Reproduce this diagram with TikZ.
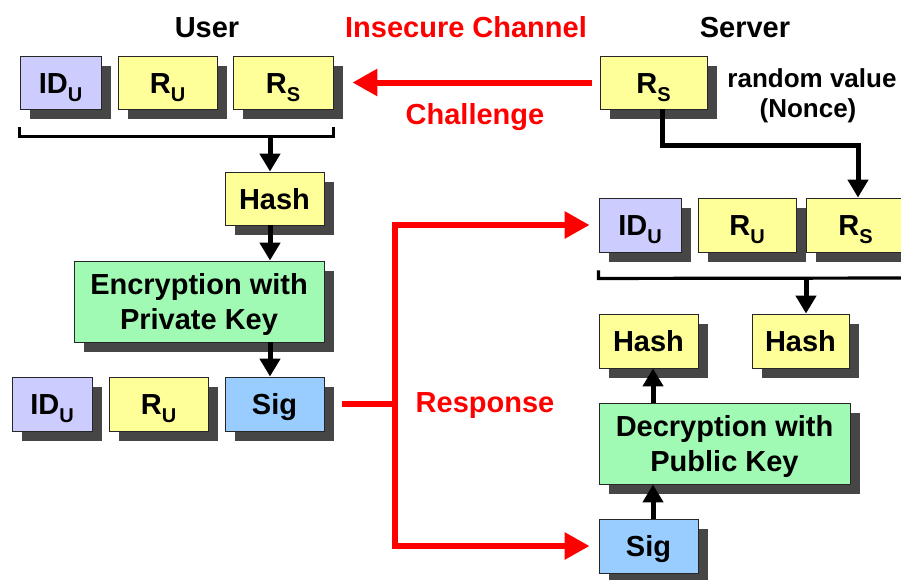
\documentclass[tikz,border=0pt]{standalone}
\usepackage{fontspec}
\setmainfont{Liberation Sans}
\usetikzlibrary{arrows.meta,shadows,calc}

\definecolor{lav}{RGB}{204,204,255}
\definecolor{yel}{RGB}{255,255,153}
\definecolor{grn}{RGB}{160,250,180}
\definecolor{blu}{RGB}{153,204,255}
\definecolor{shadowgray}{RGB}{70,70,70}

% lowered, smaller index letter (ID_U, R_S ...)
\newcommand\idx[1]{\raisebox{-8pt}{\fontsize{20}{20}\selectfont #1}}

\begin{document}
\begin{tikzpicture}[x=1pt,y=-1pt,
  box/.style={draw=black!85, line width=0.9pt, inner sep=0pt,
    font=\fontsize{29}{35}\selectfont\bfseries,
    drop shadow={shadow xshift=10pt, shadow yshift=-10pt, fill=shadowgray, opacity=1}},
  sz/.style 2 args={minimum width=#1pt, minimum height=#2pt},
  one/.style={text height=21pt, text depth=0pt},
  two/.style={align=center, text depth=0pt},
  lbl/.style={inner sep=0pt, font=\fontsize{29}{35}\selectfont\bfseries, anchor=base},
  small/.style={inner sep=0pt, font=\fontsize{26}{30}\selectfont\bfseries, anchor=base},
  arr/.style={line width=5pt, -{Triangle[width=20pt,length=18pt]}},
  brk/.style={line width=3.2pt},
  rline/.style={red, line width=6pt},
  rarr/.style={rline, -{Triangle[width=26pt,length=25pt]}}]

\useasboundingbox (0,0) rectangle (901,579);
\clip (0,0) rectangle (901,579);

% ---------- headings ----------
\node[lbl] (user) at (207,37) {User};
\node[lbl, text=red] (chan) at (466,37) {Insecure Channel};
\node[lbl] (server) at (745,37) {Server};

% ---------- user side ----------
\node[box, fill=lav, sz={81}{53}, one] (idA) at (60.5,82.5) {ID\idx{U}};
\node[box, fill=yel, sz={99}{53}, one] (ruA) at (167.5,82.5) {R\idx{U}};
\node[box, fill=yel, sz={100}{53}, one] (rsA) at (283,82.5) {R\idx{S}};
\node[box, fill=yel, sz={99}{53}, one] (hashA) at (274.5,198.5) {Hash};
\node[box, fill=grn, sz={250}{81}, two] (enc) at (199,301.5) {Encryption with\\Private Key};
\node[box, fill=lav, sz={80}{54}, one] (idB) at (52,404) {ID\idx{U}};
\node[box, fill=yel, sz={99}{54}, one] (ruB) at (158.5,404) {R\idx{U}};
\node[box, fill=blu, sz={99}{54}, one] (sigA) at (274.5,404) {Sig};

% ---------- server side ----------
\node[box, fill=yel, sz={107}{53}, one] (rsS) at (653.5,82.5) {R\idx{S}};
\node[small] (nonceA) at (812,87) {random value};
\node[small] (nonceB) at (808,117) {(Nonce)};
\node[box, fill=lav, sz={82}{54}, one] (idC) at (640,225) {ID\idx{U}};
\node[box, fill=yel, sz={98}{54}, one] (ruC) at (747,225) {R\idx{U}};
\node[box, fill=yel, sz={99}{54}, one] (rsC) at (855.5,225) {R\idx{S}};
\node[box, fill=yel, sz={99}{54}, one] (hashB) at (648.5,341) {Hash};
\node[box, fill=yel, sz={97}{54}, one] (hashC) at (800.5,341) {Hash};
\node[box, fill=grn, sz={251}{81}, two] (dec) at (724.5,443.5) {Decryption with\\Public Key};
\node[box, fill=blu, sz={99}{54}, one] (sigB) at (648.5,546) {Sig};

% ---------- user-side flow ----------
\draw[brk] ([yshift=-18pt]idA.south west) -- ++(0,9) -| ([yshift=-18pt]rsA.south east);
\coordinate (bA) at (270,136);
\draw[arr] (bA) -- (bA |- hashA.north);
\draw[arr] (hashA.south -| bA) -- (enc.north -| bA);
\draw[arr] (enc.south -| bA) -- (sigA.north -| bA);

% ---------- server-side flow ----------
\draw[arr] ([xshift=8.5pt]rsS.south) -- ++(0,36) -| ([xshift=2.5pt]rsC.north);
\coordinate (bCend) at (912,278);
\draw[brk] ([yshift=-18pt]idC.south west) -- ++(0,8) -- (bCend);
\coordinate (bC) at (806,278);
\draw[arr] (bC) -- (bC |- hashC.north);
\coordinate (vx) at (653,0);
\draw[arr] (dec.north -| vx) -- (hashB.south -| vx);
\draw[arr] (sigB.north -| vx) -- (dec.south -| vx);

% ---------- channel messages ----------
\draw[rarr] ([xshift=-8pt]rsS.west) -- ([xshift=19pt]rsA.east);
\node[lbl, text=red] (chal) at (475,124) {Challenge};

\coordinate (rj) at (395,404);
\draw[rline] ([xshift=18pt]sigA.east) -- (rj);
\draw[rarr] (rj) |- ([xshift=-9pt]idC.west);
\draw[rarr] (rj) |- ([xshift=-9pt]sigB.west);
\node[lbl, text=red] (resp) at (485,412) {Response};

\end{tikzpicture}
\end{document}
